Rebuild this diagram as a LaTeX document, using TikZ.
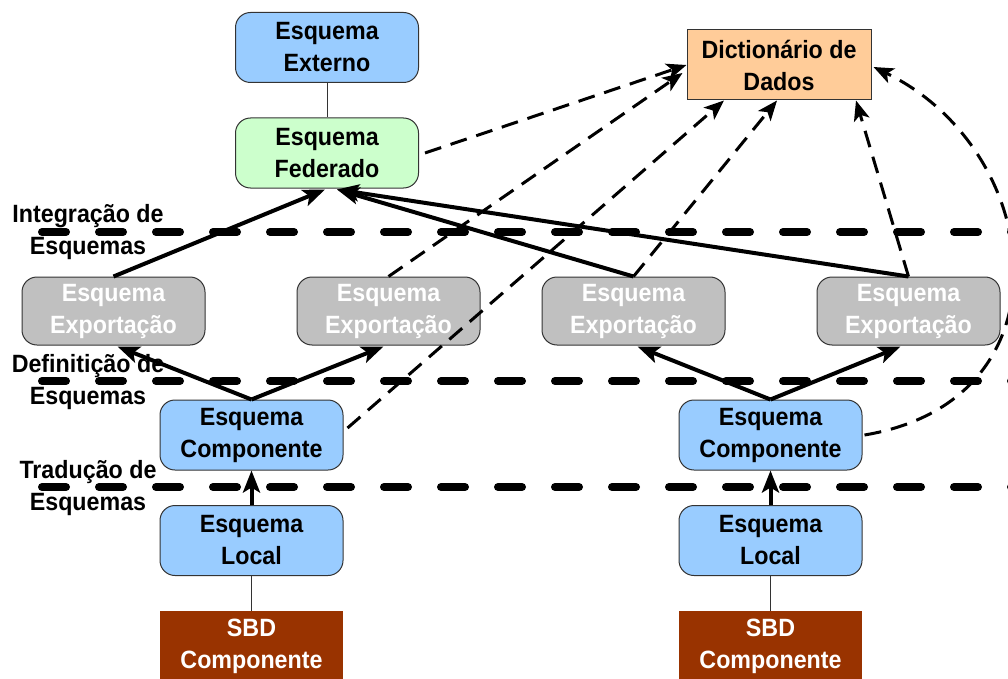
\documentclass[tikz,border=0pt]{standalone}
\usepackage{fontspec}
\newfontfamily\labfont{Liberation Sans}[FakeStretch=0.93]
\usetikzlibrary{arrows.meta,calc}
\definecolor{cblue}{HTML}{99CCFF}
\definecolor{cgreen}{HTML}{CCFFCC}
\definecolor{corange}{HTML}{FFCC99}
\definecolor{cgray}{HTML}{C0C0C0}
\definecolor{cbrown}{HTML}{993300}
\definecolor{cborder}{HTML}{333333}
\tikzset{
  box/.style={draw=cborder, line width=1pt, rounded corners=15pt, minimum width=183pt, minimum height=70pt, align=center, inner sep=0pt,
    font=\labfont\bfseries\fontsize{25}{32}\selectfont},
  bluebox/.style={box, fill=cblue},
  greenbox/.style={box, fill=cgreen},
  graybox/.style={box, fill=cgray, text=white, minimum height=68pt},
  sbdbox/.style={box, rounded corners=0pt, fill=cbrown, text=white, draw=none},
  dictbox/.style={box, rounded corners=0pt, fill=corange, minimum width=184pt},
  layerline/.style={line width=8pt, line cap=round, dash pattern=on 24pt off 33pt},
  layerlabel/.style={align=center, inner sep=0pt, font=\labfont\bfseries\fontsize{25}{32}\selectfont},
  thinlink/.style={draw=cborder, line width=1pt},
  solidarrow/.style={line width=4pt, -{Stealth[length=22pt,width=17pt,inset=5pt]}},
  dasharrow/.style={line width=3pt, dash pattern=on 17pt off 10pt, -{Stealth[length=20pt,width=16pt,inset=5pt]}},
}
\begin{document}
\begin{tikzpicture}[x=1pt,y=-1pt]
\useasboundingbox (0,0) rectangle (1008,679);
% layer separators
\coordinate (l1a) at (42,232); \coordinate (l1b) at (1030,232);
\coordinate (l2a) at (42,381); \coordinate (l2b) at (1030,381);
\coordinate (l3a) at (42,487); \coordinate (l3b) at (1030,487);
\draw[layerline] (l1a) -- (l1b);
\draw[layerline] (l2a) -- (l2b);
\draw[layerline] (l3a) -- (l3b);
\node[layerlabel] (lab1) at (88,232) {Integração de\\Esquemas};
\node[layerlabel] (lab2) at (88,382) {Definitição de\\Esquemas};
\node[layerlabel] (lab3) at (88,488) {Tradução de\\Esquemas};
% nodes
\node[bluebox] (ext) at (327,47.5) {Esquema\\Externo};
\node[greenbox] (fed) at (327,153) {Esquema\\Federado};
\node[dictbox] (dict) at (779,65) {Dictionário de\\Dados};
\node[graybox] (exp1) at (113.5,311) {Esquema\\Exportação};
\node[graybox] (exp2) at (388.5,311) {Esquema\\Exportação};
\node[graybox] (exp3) at (633.5,311) {Esquema\\Exportação};
\node[graybox] (exp4) at (908.5,311) {Esquema\\Exportação};
\node[bluebox] (comp1) at (251.5,435) {Esquema\\Componente};
\node[bluebox] (comp2) at (770.5,435) {Esquema\\Componente};
\node[bluebox] (loc1) at (251.5,540.5) {Esquema\\Local};
\node[bluebox] (loc2) at (770.5,540.5) {Esquema\\Local};
\node[sbdbox] (sbd1) at (251.5,646) {SBD\\Componente};
\node[sbdbox] (sbd2) at (770.5,646) {SBD\\Componente};
% thin links
\draw[thinlink] (ext.south) -- (fed.north);
\draw[thinlink] (loc1.south) -- (sbd1.north);
\draw[thinlink] (loc2.south) -- (sbd2.north);
% solid arrows
\draw[solidarrow] (exp1.north) -- ($(fed.south)+(-2,1)$);
\draw[solidarrow] (exp3.north) -- ($(fed.south)+(10,1)$);
\draw[solidarrow] (exp4.north) -- ($(fed.south)+(10,1)$);
\draw[solidarrow] (comp1.north) -- ($(exp1.south)+(4,1)$);
\draw[solidarrow] (comp1.north) -- ($(exp2.south)+(-5,1)$);
\draw[solidarrow] (comp2.north) -- ($(exp3.south)+(4,1)$);
\draw[solidarrow] (comp2.north) -- ($(exp4.south)+(-8,1)$);
\draw[solidarrow] (loc1.north) -- (comp1.south);
\draw[solidarrow] (loc2.north) -- (comp2.south);
% dashed arrows to dictionary
\draw[dasharrow] ($(fed.east)+(6,0)$) -- (dict.west);
\draw[dasharrow] (exp2.north) -- ($(dict.west)+(-4,8)$);
\draw[dasharrow] ($(comp1.east)+(4,-7)$) -- ($(dict.south)+(-55,0)$);
\draw[dasharrow] (exp3.north) -- ($(dict.south)+(-2,0)$);
\draw[dasharrow] (exp4.north) -- ($(dict.south)+(77,0)$);
\draw[dasharrow] ($(comp2.east)+(2,0)$) .. controls (1075,400) and (1045,150) .. ($(dict.east)+(2,2)$);
\end{tikzpicture}
\end{document}
